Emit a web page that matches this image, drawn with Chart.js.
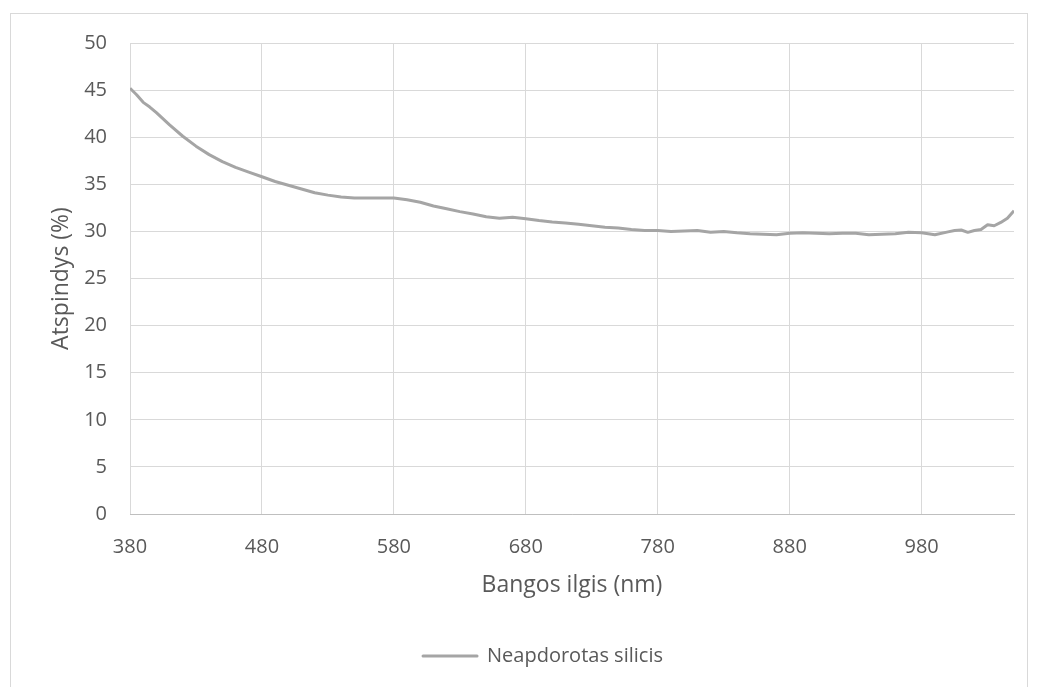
<!DOCTYPE html>
<html>
<head>
<meta charset="utf-8">
<script src="https://cdn.jsdelivr.net/npm/chart.js@4/dist/chart.umd.min.js"></script>
<style>
  html, body { margin: 0; padding: 0; background: #ffffff; }
  #wrap { width: 1056px; height: 687px; position: relative; }
</style>
</head>
<body>
<div id="wrap"><canvas id="c" width="1056" height="687"></canvas></div>
<script>
// Data
const wavelengths = [380,385,390,395,400,410,420,430,440,450,460,470,480,490,500,510,520,530,540,550,560,570,580,590,600,610,620,630,640,650,660,670,680,690,700,710,720,730,740,750,760,770,780,790,800,810,820,830,840,850,860,870,880,890,900,910,920,930,940,950,960,970,980,990,1000,1005,1010,1015,1020,1025,1030,1035,1040,1045,1050];
const reflectance = [45.2,44.5,43.7,43.2,42.6,41.3,40.1,39.05,38.15,37.4,36.8,36.3,35.8,35.3,34.9,34.5,34.1,33.85,33.65,33.55,33.55,33.55,33.55,33.35,33.1,32.7,32.4,32.1,31.85,31.55,31.4,31.5,31.35,31.15,31.0,30.9,30.75,30.6,30.45,30.35,30.2,30.1,30.1,30.0,30.05,30.1,29.9,30.0,29.85,29.75,29.7,29.65,29.8,29.85,29.8,29.75,29.8,29.8,29.65,29.7,29.75,29.9,29.85,29.65,29.95,30.1,30.15,29.9,30.1,30.2,30.7,30.6,30.95,31.4,32.2];
const xTickValues = [380,480,580,680,780,880,980];
const seriesName = 'Neapdorotas silicis';
const xTitle = 'Bangos ilgis (nm)';
const yTitle = 'Atspindys (%)';

const FONT = 'Open Sans';
const TXT = '#595959';
const GRID = '#d9d9d9';
const LINE = '#a5a5a5';

const borderPlugin = {
  id: 'outerBorder',
  beforeDraw(chart) {
    const ctx = chart.ctx;
    ctx.save();
    ctx.fillStyle = '#ffffff';
    ctx.fillRect(0, 0, chart.width, chart.height);
    ctx.strokeStyle = GRID;
    ctx.lineWidth = 1;
    ctx.strokeRect(10.5, 13.5, 1017, 700);
    ctx.restore();
  }
};

new Chart(document.getElementById('c'), {
  type: 'scatter',
  data: {
    datasets: [{
      label: seriesName,
      data: wavelengths.map((w, i) => ({ x: w, y: reflectance[i] })),
      showLine: true,
      borderColor: LINE,
      backgroundColor: LINE,
      borderWidth: 3,
      pointRadius: 0,
      pointHoverRadius: 0,
      tension: 0,
      borderJoinStyle: 'round',
      yAxisID: 'y'
    }]
  },
  options: {
    responsive: false,
    animation: false,
    events: [],
    layout: { padding: { top: 43, left: 46, right: 16, bottom: 11 } },
    plugins: {
      tooltip: { enabled: false },
      legend: {
        position: 'bottom',
        labels: {
          color: TXT,
          font: { family: FONT, size: 20 },
          boxWidth: 54,
          boxHeight: 0,
          padding: 10
        }
      }
    },
    scales: {
      x: {
        type: 'linear',
        min: 380,
        max: 1050,
        afterBuildTicks: (s) => { s.ticks = xTickValues.map(v => ({ value: v })); },
        afterFit: (s) => { s.height = 122; },
        grid: { color: GRID, lineWidth: 1, drawTicks: false, tickLength: 0 },
        border: { display: true, color: '#bfbfbf', width: 1 },
        ticks: { color: TXT, font: { family: FONT, size: 20 }, padding: 21, maxRotation: 0, autoSkip: false },
        title: { display: true, text: xTitle, color: TXT, font: { family: FONT, size: 23 }, padding: { top: 4, bottom: 37 } }
      },
      y: {
        type: 'linear',
        position: 'left',
        min: 0,
        max: 50,
        ticks: { stepSize: 5, color: TXT, font: { family: FONT, size: 20 }, padding: 23 },
        afterFit: (s) => { s.width = 84; },
        grid: { color: GRID, lineWidth: 1, drawTicks: false, tickLength: 0 },
        border: { display: false },
        title: { display: true, text: yTitle, color: TXT, font: { family: FONT, size: 23 }, padding: { top: 2, bottom: 4 } }
      },
      yRight: {
        type: 'linear',
        position: 'right',
        min: 0,
        max: 50,
        display: true,
        afterFit: (s) => { s.width = 26; },
        grid: { display: false, drawOnChartArea: false },
        border: { display: false },
        ticks: { display: false }
      }
    }
  },
  plugins: [borderPlugin]
});
</script>
</body>
</html>
